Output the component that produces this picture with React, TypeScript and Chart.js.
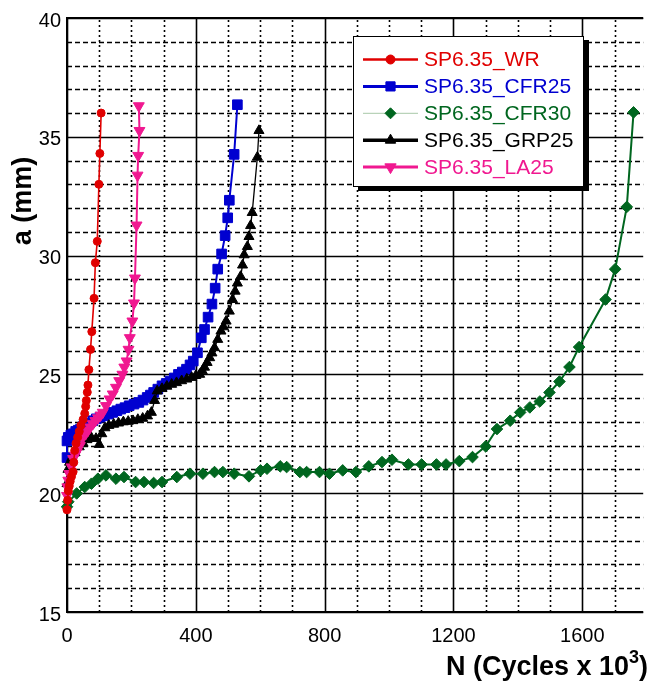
import React, { useEffect, useRef } from 'react';
import { Chart, registerables } from 'chart.js';

Chart.register(...registerables);

const FONT = "'Liberation Sans', Arial, Helvetica, sans-serif";

// ---- axis ticks ----
const xTicks = [0, 400, 800, 1200, 1600];
const yTicks = [15, 20, 25, 30, 35, 40];
const xMinor = [100, 200, 300, 500, 600, 700, 900, 1000, 1100, 1300, 1400, 1500, 1700];
const yMinor = [16, 17, 18, 19, 21, 22, 23, 24, 26, 27, 28, 29, 31, 32, 33, 34, 36, 37, 38, 39];

// ---- series (N in cycles x 10^3, a in mm) ----
const wrN = [0, 2, 4, 7, 10, 14, 19, 21, 24, 28, 33, 38, 43, 50, 55, 58, 60, 63, 65, 68, 73, 77, 84, 88, 94, 99, 102, 106];
const wrA = [19.3, 19.7, 20.1, 20.3, 20.5, 20.7, 20.9, 21.3, 21.8, 22.1, 22.35, 22.6, 22.85, 23.1, 23.35, 23.65, 23.9, 24.25, 24.55, 25.2, 26.05, 26.8, 28.2, 29.7, 30.6, 33.0, 34.3, 36.0];

const cfr25N = [0, 0, 4, 12, 19, 27, 35, 42, 50, 60, 70, 80, 91, 103, 116, 129, 142, 155, 167, 180, 193, 208, 223, 236, 249, 259, 269, 282, 295, 308, 320, 333, 346, 358, 371, 382, 392, 405, 417, 427, 438, 450, 460, 468, 480, 491, 499, 504, 519, 529];
const cfr25A = [21.5, 22.2, 22.35, 22.45, 22.5, 22.6, 22.65, 22.7, 22.8, 22.85, 22.95, 23.05, 23.13, 23.2, 23.26, 23.33, 23.4, 23.47, 23.54, 23.6, 23.68, 23.75, 23.82, 23.92, 24.03, 24.13, 24.24, 24.38, 24.52, 24.62, 24.72, 24.85, 25.0, 25.1, 25.22, 25.4, 25.56, 25.91, 26.54, 26.89, 27.41, 27.96, 28.63, 29.43, 30.07, 30.84, 31.59, 32.33, 34.26, 36.35];

const cfr30N = [0, 4, 30, 55, 76, 96, 121, 152, 177, 213, 239, 269, 295, 341, 382, 422, 458, 484, 519, 565, 601, 621, 662, 682, 723, 744, 784, 815, 856, 897, 937, 978, 1009, 1060, 1101, 1147, 1177, 1218, 1259, 1300, 1335, 1376, 1407, 1437, 1468, 1498, 1529, 1560, 1590, 1672, 1702, 1738, 1759];
const cfr30A = [19.43, 19.64, 19.99, 20.26, 20.4, 20.61, 20.75, 20.61, 20.68, 20.47, 20.47, 20.43, 20.47, 20.68, 20.82, 20.82, 20.89, 20.89, 20.82, 20.71, 20.96, 21.03, 21.13, 21.1, 20.89, 20.89, 20.89, 20.82, 20.96, 20.89, 21.13, 21.31, 21.41, 21.21, 21.21, 21.21, 21.21, 21.35, 21.52, 21.97, 22.7, 23.05, 23.4, 23.61, 23.86, 24.24, 24.7, 25.31, 26.15, 28.15, 29.43, 32.05, 36.03];

const grp25N = [0, 3, 8, 15, 25, 38, 50, 62, 75, 90, 100, 108, 118, 130, 145, 160, 175, 190, 205, 220, 235, 250, 262, 272, 280, 295, 310, 325, 340, 356, 372, 387, 400, 412, 420, 427, 435, 443, 450, 458, 468, 478, 486, 494, 504, 514, 522, 529, 539, 545, 550, 560, 565, 570, 575, 591, 596];
const grp25A = [20.4, 21.0, 21.3, 21.5, 21.7, 21.95, 22.1, 22.25, 22.35, 22.3, 22.05, 22.5, 22.75, 22.85, 22.9, 22.95, 23.0, 23.02, 23.05, 23.1, 23.15, 23.25, 23.4, 23.9, 24.3, 24.4, 24.5, 24.58, 24.65, 24.73, 24.8, 24.87, 24.95, 25.0, 25.15, 25.3, 25.5, 25.7, 25.9, 26.12, 26.47, 26.82, 27.0, 27.24, 27.66, 28.15, 28.5, 28.84, 29.12, 29.6, 30.03, 30.38, 30.8, 31.26, 31.81, 34.14, 35.26];

const la25N = [0, 1, 4, 7, 14, 19, 25, 30, 40, 50, 58, 65, 72, 80, 88, 96, 104, 111, 121, 132, 142, 152, 162, 172, 178, 185, 191, 195, 203, 208, 211, 216, 219, 221, 225, 223];
const la25A = [19.9, 20.26, 20.54, 20.82, 21.1, 21.45, 21.6, 21.73, 22.0, 22.36, 22.5, 22.64, 22.78, 22.92, 23.05, 23.17, 23.28, 23.4, 23.68, 23.96, 24.17, 24.45, 24.73, 25.0, 25.3, 25.56, 26.05, 26.54, 27.24, 28.0, 29.05, 31.28, 33.38, 34.21, 35.26, 36.3];

const seriesLabels = ['SP6.35_WR', 'SP6.35_CFR25', 'SP6.35_CFR30', 'SP6.35_GRP25', 'SP6.35_LA25'];
const seriesColors = ['#e00000', '#0000d0', '#00661f', '#000000', '#f01890'];

const X_MIN = 0;
const X_MAX = 1789;
const Y_MIN = 15;
const Y_MAX = 40;

const toPts = (xs: number[], ys: number[]) => xs.map((v, i) => ({ x: v, y: ys[i] }));

type Marker = 'circle' | 'rect' | 'rectRot' | 'triangle' | 'triangleDown';

function drawMarker(ctx: CanvasRenderingContext2D, m: Marker, x: number, y: number, r: number, color: string) {
  ctx.save();
  ctx.fillStyle = color;
  ctx.strokeStyle = color;
  ctx.lineWidth = 1;
  ctx.setLineDash([]);
  ctx.beginPath();
  if (m === 'circle') {
    ctx.arc(x, y, r, 0, Math.PI * 2);
  } else if (m === 'rect') {
    const s = r * Math.SQRT1_2;
    ctx.rect(x - s, y - s, 2 * s, 2 * s);
  } else if (m === 'rectRot') {
    ctx.moveTo(x, y - r);
    ctx.lineTo(x + r, y);
    ctx.lineTo(x, y + r);
    ctx.lineTo(x - r, y);
    ctx.closePath();
  } else {
    const dir = m === 'triangle' ? 1 : -1;
    for (let k = 0; k < 3; k++) {
      const ang = (k * 2 * Math.PI) / 3;
      const px = x + Math.sin(ang) * r;
      const py = y - dir * Math.cos(ang) * r;
      if (k === 0) ctx.moveTo(px, py);
      else ctx.lineTo(px, py);
    }
    ctx.closePath();
  }
  ctx.fill();
  ctx.stroke();
  ctx.restore();
}

const gridPlugin = {
  id: 'matlabGrid',
  beforeDatasetsDraw(chart: any) {
    const { ctx, chartArea } = chart;
    const { left, right, top, bottom } = chartArea;
    const xs = chart.scales.x;
    const ys = chart.scales.y;
    ctx.save();
    ctx.strokeStyle = '#000';
    // minor verticals (dotted)
    ctx.lineWidth = 1.6;
    ctx.setLineDash([2, 3]);
    xMinor.forEach((v) => {
      const px = Math.round(xs.getPixelForValue(v)) + 0.5;
      if (px > right) return;
      ctx.beginPath();
      ctx.moveTo(px, bottom);
      ctx.lineTo(px, top);
      ctx.stroke();
    });
    // minor horizontals (dashed)
    ctx.setLineDash([5, 3]);
    yMinor.forEach((v) => {
      const py = Math.round(ys.getPixelForValue(v)) + 0.5;
      ctx.beginPath();
      ctx.moveTo(left, py);
      ctx.lineTo(right, py);
      ctx.stroke();
    });
    // major lines (solid)
    ctx.setLineDash([]);
    ctx.lineWidth = 1.6;
    xTicks.forEach((v) => {
      const px = Math.round(xs.getPixelForValue(v)) + 0.5;
      ctx.beginPath();
      ctx.moveTo(px, bottom);
      ctx.lineTo(px, top);
      ctx.stroke();
    });
    yTicks.forEach((v) => {
      const py = Math.round(ys.getPixelForValue(v)) + 0.5;
      ctx.beginPath();
      ctx.moveTo(left, py);
      ctx.lineTo(right, py);
      ctx.stroke();
    });
    // frame
    ctx.lineWidth = 2;
    ctx.beginPath();
    ctx.moveTo(right, top);
    ctx.lineTo(left, top);
    ctx.lineTo(left, bottom);
    ctx.lineTo(right, bottom);
    ctx.stroke();
    ctx.restore();
  },
};

const markers: Marker[] = ['circle', 'rect', 'rectRot', 'triangle', 'triangleDown'];
const legendLineWidths = [2.5, 3, 1, 3.5, 3];
const legendLineColors = ['#e00000', '#0000d0', '#a8c8a8', '#000000', '#f01890'];
const legendMarkerR = [4.5, 6.5, 5.5, 6, 6.5];

const overlayPlugin = {
  id: 'overlay',
  afterDatasetsDraw(chart: any) {
    const { ctx } = chart;
    ctx.save();
    // legend box with shadow
    const bx = 353, by = 36, bw = 230, bh = 150;
    ctx.fillStyle = '#000';
    ctx.fillRect(bx + 5, by + 4, bw + 1, bh + 1);
    ctx.fillStyle = '#fff';
    ctx.fillRect(bx, by, bw, bh);
    ctx.strokeStyle = '#000';
    ctx.lineWidth = 1;
    ctx.setLineDash([]);
    ctx.strokeRect(bx + 0.5, by + 0.5, bw, bh);
    const rowY0 = 59.5;
    const rowStep = 26.9;
    seriesLabels.forEach((lab, i) => {
      const yy = rowY0 + i * rowStep;
      ctx.strokeStyle = legendLineColors[i];
      ctx.lineWidth = legendLineWidths[i];
      ctx.beginPath();
      ctx.moveTo(363, yy);
      ctx.lineTo(418, yy);
      ctx.stroke();
      drawMarker(ctx, markers[i], 390.5, yy, legendMarkerR[i], seriesColors[i]);
      ctx.fillStyle = seriesColors[i];
      ctx.font = `21px ${FONT}`;
      ctx.textAlign = 'left';
      ctx.textBaseline = 'middle';
      ctx.fillText(lab, 424, yy + 1);
    });
    ctx.restore();
  },
  afterDraw(chart: any) {
    const { ctx } = chart;
    ctx.save();
    ctx.fillStyle = '#000';
    // y title
    ctx.font = `bold 27px ${FONT}`;
    ctx.textAlign = 'center';
    ctx.textBaseline = 'middle';
    ctx.translate(24, 201);
    ctx.rotate(-Math.PI / 2);
    ctx.fillText('a (mm)', 0, 0);
    ctx.setTransform(1, 0, 0, 1, 0, 0);
    // x title with superscript
    const main = 'N (Cycles x 10';
    const sup = '3';
    const close = ')';
    ctx.textAlign = 'left';
    ctx.textBaseline = 'alphabetic';
    ctx.font = `bold 27px ${FONT}`;
    const wMain = ctx.measureText(main).width;
    const wClose = ctx.measureText(close).width;
    ctx.font = `bold 18px ${FONT}`;
    const wSup = ctx.measureText(sup).width;
    const endX = 648;
    const base = 675;
    let x0 = endX - (wMain + wSup + wClose);
    ctx.font = `bold 27px ${FONT}`;
    ctx.fillText(main, x0, base);
    x0 += wMain;
    ctx.font = `bold 18px ${FONT}`;
    ctx.fillText(sup, x0, base - 12);
    x0 += wSup;
    ctx.font = `bold 27px ${FONT}`;
    ctx.fillText(close, x0, base);
    ctx.restore();
  },
};

export default function App() {
  const ref = useRef<HTMLCanvasElement | null>(null);
  useEffect(() => {
    if (!ref.current) return;
    const mk = (i: number, pts: { x: number; y: number }[], style: any, rotation: number, r: number, bw: number) => ({
      label: seriesLabels[i],
      data: pts,
      borderColor: seriesColors[i],
      backgroundColor: seriesColors[i],
      pointBackgroundColor: seriesColors[i],
      pointBorderColor: seriesColors[i],
      pointStyle: style,
      rotation,
      pointRadius: r,
      pointBorderWidth: 1,
      borderWidth: bw,
      tension: 0,
      fill: false,
      clip: false as any,
    });
    // Chart.js paints the first dataset on top
    const chart = new Chart(ref.current, {
      type: 'line',
      data: {
        datasets: [
          mk(0, toPts(wrN, wrA), 'circle', 0, 4, 1.6),
          mk(4, toPts(la25N, la25A), 'triangle', 180, 6.3, 2),
          mk(3, toPts(grp25N, grp25A), 'triangle', 0, 5.8, 1.3),
          mk(1, toPts(cfr25N, cfr25A), 'rect', 0, 6.8, 2),
          mk(2, toPts(cfr30N, cfr30A), 'rectRot', 0, 5.8, 2),
        ],
      },
      options: {
        responsive: false,
        animation: false,
        devicePixelRatio: 1,
        layout: { padding: { top: 15, right: 0, bottom: 0, left: 0 } },
        plugins: { legend: { display: false }, tooltip: { enabled: false }, title: { display: false } },
        scales: {
          x: {
            type: 'linear',
            min: X_MIN,
            max: X_MAX,
            grid: { display: false, drawTicks: false },
            border: { display: false },
            ticks: {
              color: '#000',
              font: { size: 20, family: FONT },
              padding: 12,
              maxRotation: 0,
              autoSkip: false,
              includeBounds: false,
              callback: (v: any) => String(v),
            },
            afterBuildTicks: (s: any) => {
              s.ticks = xTicks.map((v) => ({ value: v }));
            },
            afterFit: (s: any) => {
              s.height = 69;
            },
          },
          y: {
            type: 'linear',
            min: Y_MIN,
            max: Y_MAX,
            grid: { display: false, drawTicks: false },
            border: { display: false },
            ticks: {
              color: '#000',
              font: { size: 20, family: FONT },
              padding: 6,
              labelOffset: 3,
              autoSkip: false,
              callback: (v: any) => String(v),
            },
            afterBuildTicks: (s: any) => {
              s.ticks = yTicks.map((v) => ({ value: v }));
            },
            afterFit: (s: any) => {
              s.width = 67;
            },
          },
        },
      },
      plugins: [gridPlugin, overlayPlugin],
    } as any);
    return () => chart.destroy();
  }, []);
  return (
    <div style={{ position: 'fixed', left: 0, top: 0, width: 651, height: 681, overflow: 'hidden', background: '#fff' }}>
      <canvas ref={ref} width={651} height={681} style={{ width: 651, height: 681, display: 'block' }} />
    </div>
  );
}
